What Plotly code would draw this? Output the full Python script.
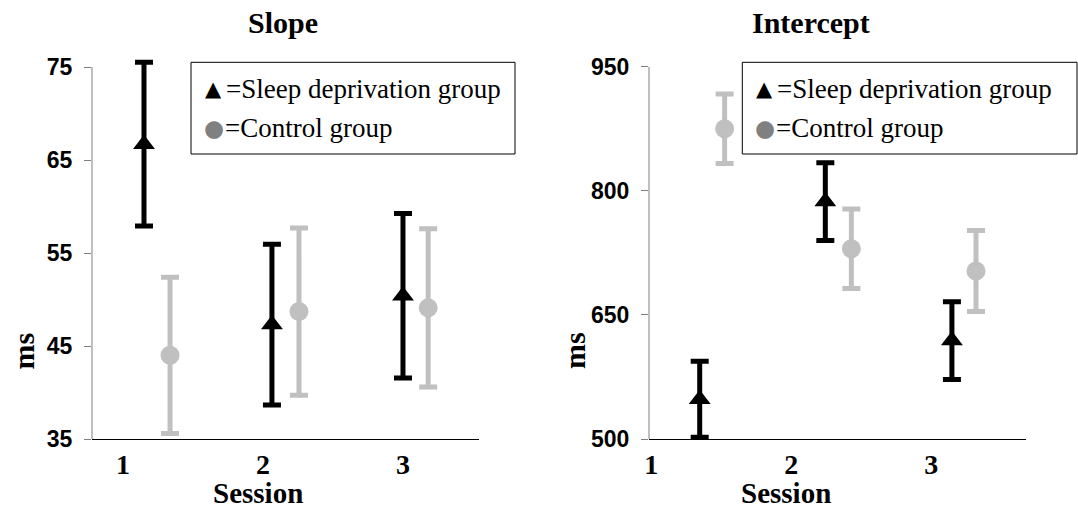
import plotly.graph_objects as go

# ---------------- data ----------------
sessions = [1, 2, 3]
session_labels = ["1", "2", "3"]

# Slope panel (ms)
slope_sleep_x = [1.15, 2.064, 3.0]
slope_sleep = [66.7, 47.3, 50.4]
slope_sleep_err = [8.8, 8.65, 8.85]
slope_ctrl_x = [1.336, 2.257, 3.18]
slope_ctrl = [44.0, 48.7, 49.1]
slope_ctrl_err = [8.4, 9.0, 8.5]

# Intercept panel (ms)
int_sleep_x = [1.346, 2.243, 3.147]
int_sleep = [548, 787, 619]
int_sleep_err = [46, 47, 47]
int_ctrl_x = [1.524, 2.429, 3.319]
int_ctrl = [875, 730, 703]
int_ctrl_err = [42, 48, 49]

slope_ticks = [35, 45, 55, 65, 75]
int_ticks = [500, 650, 800, 950]

legend_sleep = "=Sleep deprivation group"
legend_ctrl = "=Control group"

BLACK = "#000000"
GRAY = "#c0c0c0"
W, H = 1078, 510
SERIF = "Liberation Serif, Times New Roman, serif"
SANS = "Liberation Sans, Arial, sans-serif"


def px(x):
    return x / W


def py(y):
    return 1 - y / H


fig = go.Figure()


def add_series(xs, ys, errs, color, symbol, xa, ya):
    fig.add_trace(go.Scatter(
        x=xs, y=ys, mode="markers", xaxis=xa, yaxis=ya,
        marker=dict(symbol=symbol, size=19, color=color, line=dict(width=0)),
        error_y=dict(type="data", array=errs, visible=True, color=color,
                     thickness=5, width=9),
        cliponaxis=False, showlegend=False, hoverinfo="skip"))


add_series(slope_sleep_x, slope_sleep, slope_sleep_err, BLACK, "triangle-up", "x", "y")
add_series(slope_ctrl_x, slope_ctrl, slope_ctrl_err, GRAY, "circle", "x", "y")
add_series(int_sleep_x, int_sleep, int_sleep_err, BLACK, "triangle-up", "x2", "y2")
add_series(int_ctrl_x, int_ctrl, int_ctrl_err, GRAY, "circle", "x2", "y2")

xaxis_common = dict(
    tickmode="array", tickvals=sessions, ticktext=session_labels,
    showgrid=False, zeroline=False, showline=True, linecolor="#000000",
    linewidth=1, ticks="", ticklabelstandoff=0, automargin=False,
    tickfont=dict(family=SERIF, size=28, color="#000000", weight="bold"))
yaxis_common = dict(
    showgrid=False, zeroline=False, showline=False,
    ticks="outside", ticklen=7, tickcolor="#808080", tickwidth=1,
    ticklabelstandoff=7, automargin=False,
    tickfont=dict(family=SANS, size=23, color="#000000", weight="bold"))

# slope panel: 75 sits at 67 px, 35 at 439 px; range extended above 75 so the
# top error cap is not clipped
slope_top = 77
slope_px_per_unit = (439 - 67) / (75 - 35)
slope_domain_top = 67 - (slope_top - 75) * slope_px_per_unit

fig.update_layout(
    template="none",
    width=W, height=H, margin=dict(l=0, r=0, t=0, b=0, pad=0, autoexpand=False),
    paper_bgcolor="white", plot_bgcolor="rgba(0,0,0,0)",
    xaxis=dict(domain=[px(92), px(479)], range=[0.7786, 3.543], anchor="y", **xaxis_common),
    yaxis=dict(domain=[py(439), py(slope_domain_top)], range=[35, slope_top],
               tickvals=slope_ticks, anchor="x", **yaxis_common),
    xaxis2=dict(domain=[px(649), px(1026)], range=[0.984, 3.676], anchor="y2", **xaxis_common),
    yaxis2=dict(domain=[py(439), py(66.7)], range=[500, 950], tickvals=int_ticks,
                anchor="x2", **yaxis_common),
)

shapes = []
# y axis lines (from lowest to highest tick only)
for xr, yr, ticks in [("x domain", "y", slope_ticks), ("x2 domain", "y2", int_ticks)]:
    shapes.append(dict(type="line", xref=xr, yref=yr, x0=0, x1=0,
                       y0=ticks[0], y1=ticks[-1],
                       line=dict(color="#808080", width=1), layer="above"))

annotations = []
title_font = dict(family=SERIF, size=30, color="#000000", weight="bold")
session_font = dict(family=SERIF, size=29, color="#000000", weight="bold")
for text, x, y, f in [("Slope", 283, 23, title_font), ("Intercept", 811, 23, title_font),
                      ("Session", 257.5, 493, session_font),
                      ("Session", 785.5, 493, session_font)]:
    annotations.append(dict(text=text, x=px(x), y=py(y), xref="paper", yref="paper",
                            xanchor="center", yanchor="middle", showarrow=False,
                            font=f))
for x in [22.5, 574]:
    annotations.append(dict(text="ms", x=px(x), y=py(351), xref="paper", yref="paper",
                            xanchor="center", yanchor="middle", showarrow=False,
                            textangle=-90, font=title_font))

# legend boxes
legend_font = dict(family=SERIF, size=27, color="#000000")
for x0, x1 in [(191, 515), (742.3, 1077)]:
    shapes.append(dict(type="rect", xref="paper", yref="paper",
                       x0=px(x0), x1=px(x1), y0=py(154), y1=py(62.3),
                       line=dict(color="#000000", width=1), fillcolor="white",
                       layer="below"))
    annotations.append(dict(
        text="▲", x=px(x0 + 22.5), y=py(89), xref="paper", yref="paper",
        xanchor="center", yanchor="middle", showarrow=False,
        font=dict(family="DejaVu Sans", size=21, color="#000000")))
    annotations.append(dict(
        text="●", x=px(x0 + 22.5), y=py(128), xref="paper", yref="paper",
        xanchor="center", yanchor="middle", showarrow=False,
        font=dict(family="DejaVu Sans", size=23, color="#808080")))
    annotations.append(dict(
        text=legend_sleep, x=px(x0 + 33), y=py(89), xref="paper", yref="paper",
        xanchor="left", yanchor="middle", showarrow=False, font=legend_font))
    annotations.append(dict(
        text=legend_ctrl, x=px(x0 + 32), y=py(128), xref="paper", yref="paper",
        xanchor="left", yanchor="middle", showarrow=False, font=legend_font))

fig.update_layout(annotations=annotations, shapes=shapes)
fig.write_html("out.html")
